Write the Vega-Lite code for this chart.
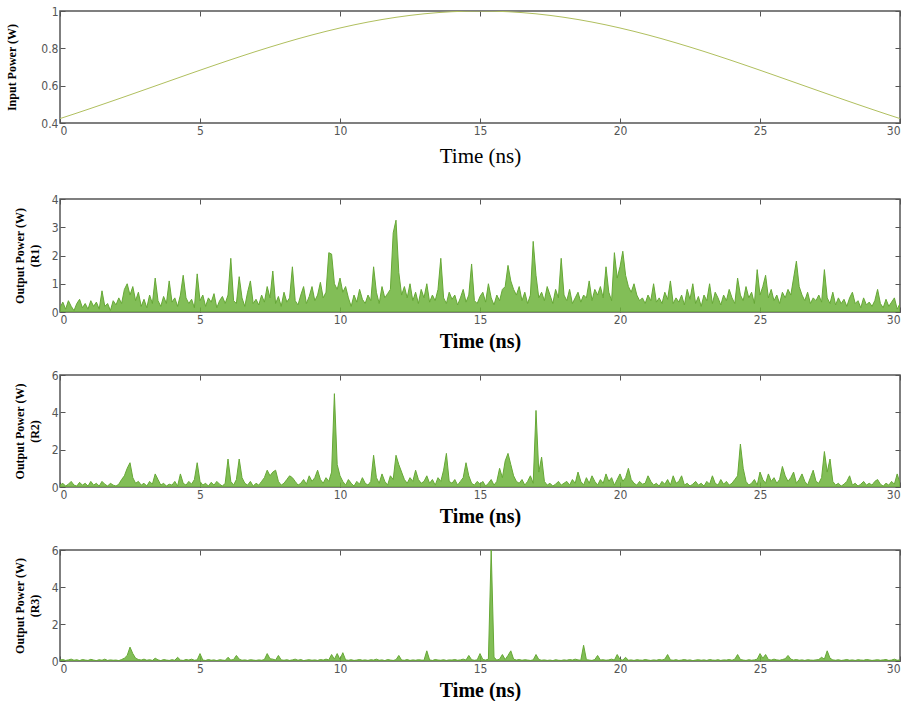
{
"$schema": "https://vega.github.io/schema/vega-lite/v6.json",
"padding": {"left": 5, "top": 4, "right": 4, "bottom": 0},
"background": "white",
"config": {
 "view": {"stroke": "#555555", "strokeWidth": 1.5},
 "axis": {"labelFont": "'Liberation Sans Narrow', 'DejaVu Sans Condensed', 'Roboto Condensed', 'Liberation Sans', sans-serif", "labelFontSize": 12, "labelColor": "#555555", "tickColor": "#555555", "tickSize": -5, "tickWidth": 1, "labelPadding": 7, "domain": false, "grid": false, "titleFont": "Liberation Serif", "titleColor": "#000000"},
 "axisY": {"titleFontSize": 12, "titleFontWeight": "bold", "titlePadding": 10, "titleLineHeight": 15},
 "axisX": {"titleFontSize": 20, "titlePadding": 6, "titleFontWeight": "bold"}
},
"datasets": {
 "inp": [
  {"t":0,"p":0.4237},{"t":0.5,"p":0.4482},{"t":1,"p":0.4733},{"t":1.5,"p":0.4988},{"t":2,"p":0.5247},{"t":2.5,"p":0.5508},{"t":3,"p":0.5772},{"t":3.5,"p":0.6036},{"t":4,"p":0.6301},{"t":4.5,"p":0.6565},
  {"t":5,"p":0.6827},{"t":5.5,"p":0.7086},{"t":6,"p":0.7341},{"t":6.5,"p":0.759},{"t":7,"p":0.7833},{"t":7.5,"p":0.8068},{"t":8,"p":0.8294},{"t":8.5,"p":0.8511},{"t":9,"p":0.8716},{"t":9.5,"p":0.891},
  {"t":10,"p":0.909},{"t":10.5,"p":0.9256},{"t":11,"p":0.9408},{"t":11.5,"p":0.9543},{"t":12,"p":0.9662},{"t":12.5,"p":0.9764},{"t":13,"p":0.9849},{"t":13.5,"p":0.9914},{"t":14,"p":0.9962},{"t":14.5,"p":0.999},
  {"t":15,"p":1.0},{"t":15.5,"p":0.999},{"t":16,"p":0.9962},{"t":16.5,"p":0.9914},{"t":17,"p":0.9849},{"t":17.5,"p":0.9764},{"t":18,"p":0.9662},{"t":18.5,"p":0.9543},{"t":19,"p":0.9408},{"t":19.5,"p":0.9256},
  {"t":20,"p":0.909},{"t":20.5,"p":0.891},{"t":21,"p":0.8716},{"t":21.5,"p":0.8511},{"t":22,"p":0.8294},{"t":22.5,"p":0.8068},{"t":23,"p":0.7833},{"t":23.5,"p":0.759},{"t":24,"p":0.7341},{"t":24.5,"p":0.7086},
  {"t":25,"p":0.6827},{"t":25.5,"p":0.6565},{"t":26,"p":0.6301},{"t":26.5,"p":0.6036},{"t":27,"p":0.5772},{"t":27.5,"p":0.5508},{"t":28,"p":0.5247},{"t":28.5,"p":0.4988},{"t":29,"p":0.4733},{"t":29.5,"p":0.4482},
  {"t":30,"p":0.4237}
 ],
 "out": [
  {"t":0,"r1":0.15,"r2":0.1,"r3":0.05},{"t":0.1,"r1":0.35,"r2":0.2,"r3":0.08},{"t":0.2,"r1":0.1,"r2":0.05,"r3":0.03},{"t":0.3,"r1":0.4,"r2":0.15,"r3":0.06},{"t":0.4,"r1":0.2,"r2":0.3,"r3":0.1},{"t":0.5,"r1":0.05,"r2":0.1,"r3":0.04},{"t":0.6,"r1":0.3,"r2":0.05,"r3":0.07},{"t":0.7,"r1":0.45,"r2":0.25,"r3":0.02},{"t":0.8,"r1":0.15,"r2":0.1,"r3":0.08},{"t":0.9,"r1":0.3,"r2":0.2,"r3":0.05},
  {"t":1,"r1":0.1,"r2":0.05,"r3":0.03},{"t":1.1,"r1":0.4,"r2":0.3,"r3":0.09},{"t":1.2,"r1":0.2,"r2":0.1,"r3":0.05},{"t":1.3,"r1":0.35,"r2":0.2,"r3":0.02},{"t":1.4,"r1":0.1,"r2":0.05,"r3":0.07},{"t":1.5,"r1":0.75,"r2":0.3,"r3":0.04},{"t":1.6,"r1":0.2,"r2":0.15,"r3":0.1},{"t":1.7,"r1":0.3,"r2":0.05,"r3":0.03},{"t":1.8,"r1":0.05,"r2":0.2,"r3":0.06},{"t":1.9,"r1":0.4,"r2":0.1,"r3":0.04},
  {"t":2,"r1":0.25,"r2":0.05,"r3":0.05},{"t":2.1,"r1":0.5,"r2":0.15,"r3":0.02},{"t":2.2,"r1":0.3,"r2":0.4,"r3":0.08},{"t":2.3,"r1":0.8,"r2":0.6,"r3":0.15},{"t":2.4,"r1":1.0,"r2":1.0,"r3":0.3},{"t":2.5,"r1":0.6,"r2":1.3,"r3":0.75},{"t":2.6,"r1":0.9,"r2":0.5,"r3":0.4},{"t":2.7,"r1":0.4,"r2":0.2,"r3":0.15},{"t":2.8,"r1":0.7,"r2":0.3,"r3":0.08},{"t":2.9,"r1":0.2,"r2":0.1,"r3":0.05},
  {"t":3,"r1":0.45,"r2":0.2,"r3":0.1},{"t":3.1,"r1":0.15,"r2":0.05,"r3":0.04},{"t":3.2,"r1":0.6,"r2":0.3,"r3":0.07},{"t":3.3,"r1":0.3,"r2":0.15,"r3":0.03},{"t":3.4,"r1":1.2,"r2":0.7,"r3":0.15},{"t":3.5,"r1":0.4,"r2":0.4,"r3":0.06},{"t":3.6,"r1":0.2,"r2":0.1,"r3":0.02},{"t":3.7,"r1":0.55,"r2":0.2,"r3":0.08},{"t":3.8,"r1":0.3,"r2":0.05,"r3":0.05},{"t":3.9,"r1":1.1,"r2":0.15,"r3":0.03},
  {"t":4,"r1":0.35,"r2":0.1,"r3":0.07},{"t":4.1,"r1":0.5,"r2":0.3,"r3":0.04},{"t":4.2,"r1":0.2,"r2":0.05,"r3":0.2},{"t":4.3,"r1":0.6,"r2":0.7,"r3":0.05},{"t":4.4,"r1":1.3,"r2":0.2,"r3":0.03},{"t":4.5,"r1":0.5,"r2":0.1,"r3":0.08},{"t":4.6,"r1":0.3,"r2":0.3,"r3":0.05},{"t":4.7,"r1":0.45,"r2":0.15,"r3":0.1},{"t":4.8,"r1":0.15,"r2":0.4,"r3":0.04},{"t":4.9,"r1":1.35,"r2":1.3,"r3":0.06},
  {"t":5,"r1":0.4,"r2":0.3,"r3":0.4},{"t":5.1,"r1":0.6,"r2":0.1,"r3":0.05},{"t":5.2,"r1":0.2,"r2":0.2,"r3":0.03},{"t":5.3,"r1":0.5,"r2":0.05,"r3":0.08},{"t":5.4,"r1":0.35,"r2":0.25,"r3":0.04},{"t":5.5,"r1":0.65,"r2":0.1,"r3":0.06},{"t":5.6,"r1":0.15,"r2":0.3,"r3":0.02},{"t":5.7,"r1":0.4,"r2":0.15,"r3":0.07},{"t":5.8,"r1":0.55,"r2":0.05,"r3":0.05},{"t":5.9,"r1":0.3,"r2":0.2,"r3":0.03},
  {"t":6,"r1":0.6,"r2":1.5,"r3":0.2},{"t":6.1,"r1":1.9,"r2":0.3,"r3":0.05},{"t":6.2,"r1":0.4,"r2":0.1,"r3":0.08},{"t":6.3,"r1":0.3,"r2":0.4,"r3":0.3},{"t":6.4,"r1":1.25,"r2":1.5,"r3":0.1},{"t":6.5,"r1":0.5,"r2":0.5,"r3":0.04},{"t":6.6,"r1":0.2,"r2":0.2,"r3":0.06},{"t":6.7,"r1":0.7,"r2":0.1,"r3":0.03},{"t":6.8,"r1":1.1,"r2":0.3,"r3":0.07},{"t":6.9,"r1":0.3,"r2":0.05,"r3":0.05},
  {"t":7,"r1":0.45,"r2":0.2,"r3":0.03},{"t":7.1,"r1":0.25,"r2":0.1,"r3":0.06},{"t":7.2,"r1":0.6,"r2":0.3,"r3":0.04},{"t":7.3,"r1":0.35,"r2":0.5,"r3":0.08},{"t":7.4,"r1":0.9,"r2":0.9,"r3":0.4},{"t":7.5,"r1":0.5,"r2":0.6,"r3":0.12},{"t":7.6,"r1":1.45,"r2":0.8,"r3":0.1},{"t":7.7,"r1":0.3,"r2":0.9,"r3":0.05},{"t":7.8,"r1":0.55,"r2":0.3,"r3":0.3},{"t":7.9,"r1":0.2,"r2":0.1,"r3":0.06},
  {"t":8,"r1":0.7,"r2":0.2,"r3":0.04},{"t":8.1,"r1":0.35,"r2":0.4,"r3":0.07},{"t":8.2,"r1":0.5,"r2":0.6,"r3":0.03},{"t":8.3,"r1":1.6,"r2":0.5,"r3":0.06},{"t":8.4,"r1":0.4,"r2":0.3,"r3":0.1},{"t":8.5,"r1":0.25,"r2":0.1,"r3":0.04},{"t":8.6,"r1":0.6,"r2":0.2,"r3":0.08},{"t":8.7,"r1":0.9,"r2":0.4,"r3":0.02},{"t":8.8,"r1":0.3,"r2":0.15,"r3":0.05},{"t":8.9,"r1":0.55,"r2":0.6,"r3":0.07},
  {"t":9,"r1":0.9,"r2":0.3,"r3":0.04},{"t":9.1,"r1":0.4,"r2":0.5,"r3":0.06},{"t":9.2,"r1":0.6,"r2":0.9,"r3":0.03},{"t":9.3,"r1":1.05,"r2":0.4,"r3":0.08},{"t":9.4,"r1":0.5,"r2":0.2,"r3":0.05},{"t":9.5,"r1":0.7,"r2":0.5,"r3":0.1},{"t":9.6,"r1":2.1,"r2":0.3,"r3":0.06},{"t":9.7,"r1":2.05,"r2":0.8,"r3":0.35},{"t":9.8,"r1":1.0,"r2":5.0,"r3":0.1},{"t":9.9,"r1":0.8,"r2":1.2,"r3":0.4},
  {"t":10,"r1":1.2,"r2":0.6,"r3":0.08},{"t":10.1,"r1":0.7,"r2":0.3,"r3":0.45},{"t":10.2,"r1":0.9,"r2":0.1,"r3":0.06},{"t":10.3,"r1":0.5,"r2":0.4,"r3":0.04},{"t":10.4,"r1":0.2,"r2":0.2,"r3":0.07},{"t":10.5,"r1":0.6,"r2":0.05,"r3":0.03},{"t":10.6,"r1":0.35,"r2":0.3,"r3":0.05},{"t":10.7,"r1":0.8,"r2":0.15,"r3":0.08},{"t":10.8,"r1":0.45,"r2":0.5,"r3":0.04},{"t":10.9,"r1":0.3,"r2":0.2,"r3":0.06},
  {"t":11,"r1":0.6,"r2":0.1,"r3":0.03},{"t":11.1,"r1":0.4,"r2":0.3,"r3":0.07},{"t":11.2,"r1":1.6,"r2":1.7,"r3":0.05},{"t":11.3,"r1":0.7,"r2":0.5,"r3":0.1},{"t":11.4,"r1":0.3,"r2":0.2,"r3":0.04},{"t":11.5,"r1":0.9,"r2":0.7,"r3":0.06},{"t":11.6,"r1":0.5,"r2":0.3,"r3":0.02},{"t":11.7,"r1":0.65,"r2":0.1,"r3":0.08},{"t":11.8,"r1":0.8,"r2":0.6,"r3":0.05},{"t":11.9,"r1":2.8,"r2":0.4,"r3":0.03},
  {"t":12,"r1":3.25,"r2":1.7,"r3":0.07},{"t":12.1,"r1":1.4,"r2":1.2,"r3":0.3},{"t":12.2,"r1":0.6,"r2":0.8,"r3":0.05},{"t":12.3,"r1":0.9,"r2":0.4,"r3":0.04},{"t":12.4,"r1":0.5,"r2":0.2,"r3":0.08},{"t":12.5,"r1":1.0,"r2":0.5,"r3":0.03},{"t":12.6,"r1":0.4,"r2":0.3,"r3":0.06},{"t":12.7,"r1":0.7,"r2":0.9,"r3":0.04},{"t":12.8,"r1":0.3,"r2":0.4,"r3":0.07},{"t":12.9,"r1":0.8,"r2":0.2,"r3":0.05},
  {"t":13,"r1":0.5,"r2":0.3,"r3":0.04},{"t":13.1,"r1":1.0,"r2":0.6,"r3":0.55},{"t":13.2,"r1":0.35,"r2":0.2,"r3":0.06},{"t":13.3,"r1":0.6,"r2":0.4,"r3":0.03},{"t":13.4,"r1":0.4,"r2":0.1,"r3":0.08},{"t":13.5,"r1":0.8,"r2":0.5,"r3":0.05},{"t":13.6,"r1":1.9,"r2":0.3,"r3":0.04},{"t":13.7,"r1":0.5,"r2":0.9,"r3":0.07},{"t":13.8,"r1":0.3,"r2":1.8,"r3":0.03},{"t":13.9,"r1":0.7,"r2":0.3,"r3":0.06},
  {"t":14,"r1":0.45,"r2":0.2,"r3":0.05},{"t":14.1,"r1":0.6,"r2":0.4,"r3":0.08},{"t":14.2,"r1":0.25,"r2":0.1,"r3":0.04},{"t":14.3,"r1":0.5,"r2":0.3,"r3":0.06},{"t":14.4,"r1":0.8,"r2":0.5,"r3":0.1},{"t":14.5,"r1":0.35,"r2":1.3,"r3":0.05},{"t":14.6,"r1":0.6,"r2":0.6,"r3":0.3},{"t":14.7,"r1":1.7,"r2":0.2,"r3":0.07},{"t":14.8,"r1":0.4,"r2":0.1,"r3":0.04},{"t":14.9,"r1":0.3,"r2":0.3,"r3":0.06},
  {"t":15,"r1":0.55,"r2":0.15,"r3":0.4},{"t":15.1,"r1":0.7,"r2":0.3,"r3":0.08},{"t":15.2,"r1":0.35,"r2":0.05,"r3":0.05},{"t":15.3,"r1":1.0,"r2":0.2,"r3":0.1},{"t":15.4,"r1":0.5,"r2":0.4,"r3":6.0},{"t":15.5,"r1":0.25,"r2":0.1,"r3":0.2},{"t":15.6,"r1":0.6,"r2":0.3,"r3":0.05},{"t":15.7,"r1":0.4,"r2":1.0,"r3":0.1},{"t":15.8,"r1":0.8,"r2":0.5,"r3":0.35},{"t":15.9,"r1":0.9,"r2":1.4,"r3":0.08},
  {"t":16,"r1":1.65,"r2":1.8,"r3":0.3},{"t":16.1,"r1":1.1,"r2":1.2,"r3":0.55},{"t":16.2,"r1":0.8,"r2":0.6,"r3":0.1},{"t":16.3,"r1":0.6,"r2":0.3,"r3":0.05},{"t":16.4,"r1":0.9,"r2":0.2,"r3":0.08},{"t":16.5,"r1":0.4,"r2":0.4,"r3":0.04},{"t":16.6,"r1":0.7,"r2":0.1,"r3":0.07},{"t":16.7,"r1":0.3,"r2":0.3,"r3":0.05},{"t":16.8,"r1":0.6,"r2":0.6,"r3":0.03},{"t":16.9,"r1":2.5,"r2":0.2,"r3":0.06},
  {"t":17,"r1":1.3,"r2":4.1,"r3":0.35},{"t":17.1,"r1":0.5,"r2":0.8,"r3":0.08},{"t":17.2,"r1":0.7,"r2":1.6,"r3":0.04},{"t":17.3,"r1":0.4,"r2":0.3,"r3":0.06},{"t":17.4,"r1":0.9,"r2":0.1,"r3":0.03},{"t":17.5,"r1":0.6,"r2":0.2,"r3":0.05},{"t":17.6,"r1":0.3,"r2":0.05,"r3":0.02},{"t":17.7,"r1":0.8,"r2":0.15,"r3":0.07},{"t":17.8,"r1":0.5,"r2":0.3,"r3":0.04},{"t":17.9,"r1":1.9,"r2":0.1,"r3":0.03},
  {"t":18,"r1":0.6,"r2":0.2,"r3":0.06},{"t":18.1,"r1":0.4,"r2":0.3,"r3":0.04},{"t":18.2,"r1":0.8,"r2":0.1,"r3":0.08},{"t":18.3,"r1":0.3,"r2":0.4,"r3":0.05},{"t":18.4,"r1":0.5,"r2":0.2,"r3":0.1},{"t":18.5,"r1":0.7,"r2":0.8,"r3":0.06},{"t":18.6,"r1":0.35,"r2":0.3,"r3":0.04},{"t":18.7,"r1":0.6,"r2":0.1,"r3":0.85},{"t":18.8,"r1":0.5,"r2":0.5,"r3":0.07},{"t":18.9,"r1":1.1,"r2":0.2,"r3":0.05},
  {"t":19,"r1":0.4,"r2":0.6,"r3":0.03},{"t":19.1,"r1":0.8,"r2":0.3,"r3":0.08},{"t":19.2,"r1":0.6,"r2":0.1,"r3":0.3},{"t":19.3,"r1":0.9,"r2":0.4,"r3":0.05},{"t":19.4,"r1":0.5,"r2":0.2,"r3":0.07},{"t":19.5,"r1":1.6,"r2":0.7,"r3":0.04},{"t":19.6,"r1":0.7,"r2":0.3,"r3":0.06},{"t":19.7,"r1":0.4,"r2":0.5,"r3":0.1},{"t":19.8,"r1":2.1,"r2":0.1,"r3":0.05},{"t":19.9,"r1":1.2,"r2":0.4,"r3":0.35},
  {"t":20,"r1":1.6,"r2":0.7,"r3":0.08},{"t":20.1,"r1":2.15,"r2":0.3,"r3":0.05},{"t":20.2,"r1":1.3,"r2":0.5,"r3":0.2},{"t":20.3,"r1":0.9,"r2":1.0,"r3":0.04},{"t":20.4,"r1":0.7,"r2":0.4,"r3":0.06},{"t":20.5,"r1":1.0,"r2":0.2,"r3":0.03},{"t":20.6,"r1":0.6,"r2":0.1,"r3":0.07},{"t":20.7,"r1":0.4,"r2":0.3,"r3":0.05},{"t":20.8,"r1":0.5,"r2":0.15,"r3":0.04},{"t":20.9,"r1":0.3,"r2":0.2,"r3":0.08},
  {"t":21,"r1":0.6,"r2":0.6,"r3":0.05},{"t":21.1,"r1":0.4,"r2":0.3,"r3":0.03},{"t":21.2,"r1":1.0,"r2":0.1,"r3":0.06},{"t":21.3,"r1":0.35,"r2":0.2,"r3":0.04},{"t":21.4,"r1":0.5,"r2":0.05,"r3":0.08},{"t":21.5,"r1":0.3,"r2":0.3,"r3":0.05},{"t":21.6,"r1":0.7,"r2":0.15,"r3":0.1},{"t":21.7,"r1":0.45,"r2":0.4,"r3":0.35},{"t":21.8,"r1":1.1,"r2":0.1,"r3":0.06},{"t":21.9,"r1":0.3,"r2":0.6,"r3":0.04},
  {"t":22,"r1":0.5,"r2":0.2,"r3":0.07},{"t":22.1,"r1":0.35,"r2":0.3,"r3":0.03},{"t":22.2,"r1":0.6,"r2":0.6,"r3":0.05},{"t":22.3,"r1":0.25,"r2":0.1,"r3":0.08},{"t":22.4,"r1":0.8,"r2":0.2,"r3":0.04},{"t":22.5,"r1":0.45,"r2":0.05,"r3":0.06},{"t":22.6,"r1":1.0,"r2":0.15,"r3":0.02},{"t":22.7,"r1":0.3,"r2":0.3,"r3":0.05},{"t":22.8,"r1":0.55,"r2":0.1,"r3":0.07},{"t":22.9,"r1":0.2,"r2":0.2,"r3":0.04},
  {"t":23,"r1":0.6,"r2":0.05,"r3":0.06},{"t":23.1,"r1":0.4,"r2":0.3,"r3":0.03},{"t":23.2,"r1":1.0,"r2":0.15,"r3":0.08},{"t":23.3,"r1":0.3,"r2":0.6,"r3":0.05},{"t":23.4,"r1":0.7,"r2":0.2,"r3":0.04},{"t":23.5,"r1":0.5,"r2":0.1,"r3":0.07},{"t":23.6,"r1":0.25,"r2":0.4,"r3":0.03},{"t":23.7,"r1":0.6,"r2":0.15,"r3":0.06},{"t":23.8,"r1":0.4,"r2":0.3,"r3":0.05},{"t":23.9,"r1":0.8,"r2":0.1,"r3":0.08},
  {"t":24,"r1":0.5,"r2":0.2,"r3":0.04},{"t":24.1,"r1":0.3,"r2":0.4,"r3":0.1},{"t":24.2,"r1":1.2,"r2":0.6,"r3":0.35},{"t":24.3,"r1":0.6,"r2":2.3,"r3":0.08},{"t":24.4,"r1":0.4,"r2":1.0,"r3":0.05},{"t":24.5,"r1":0.9,"r2":0.3,"r3":0.03},{"t":24.6,"r1":0.5,"r2":0.1,"r3":0.07},{"t":24.7,"r1":0.7,"r2":0.2,"r3":0.04},{"t":24.8,"r1":0.3,"r2":0.4,"r3":0.06},{"t":24.9,"r1":1.5,"r2":0.1,"r3":0.1},
  {"t":25,"r1":0.6,"r2":0.8,"r3":0.4},{"t":25.1,"r1":0.9,"r2":0.4,"r3":0.15},{"t":25.2,"r1":1.3,"r2":0.2,"r3":0.35},{"t":25.3,"r1":0.5,"r2":0.7,"r3":0.08},{"t":25.4,"r1":0.8,"r2":0.3,"r3":0.05},{"t":25.5,"r1":0.4,"r2":0.5,"r3":0.1},{"t":25.6,"r1":0.6,"r2":0.2,"r3":0.06},{"t":25.7,"r1":0.3,"r2":0.4,"r3":0.04},{"t":25.8,"r1":0.7,"r2":1.1,"r3":0.08},{"t":25.9,"r1":0.5,"r2":0.6,"r3":0.12},
  {"t":26,"r1":0.8,"r2":0.3,"r3":0.3},{"t":26.1,"r1":0.6,"r2":0.5,"r3":0.1},{"t":26.2,"r1":1.2,"r2":0.8,"r3":0.05},{"t":26.3,"r1":1.8,"r2":0.2,"r3":0.08},{"t":26.4,"r1":0.9,"r2":0.4,"r3":0.04},{"t":26.5,"r1":0.6,"r2":0.7,"r3":0.06},{"t":26.6,"r1":0.4,"r2":0.3,"r3":0.03},{"t":26.7,"r1":0.7,"r2":0.1,"r3":0.07},{"t":26.8,"r1":0.3,"r2":0.5,"r3":0.05},{"t":26.9,"r1":0.5,"r2":0.9,"r3":0.04},
  {"t":27,"r1":0.4,"r2":0.3,"r3":0.06},{"t":27.1,"r1":0.6,"r2":0.2,"r3":0.08},{"t":27.2,"r1":0.35,"r2":0.5,"r3":0.2},{"t":27.3,"r1":1.5,"r2":1.9,"r3":0.1},{"t":27.4,"r1":0.5,"r2":0.8,"r3":0.55},{"t":27.5,"r1":0.3,"r2":1.5,"r3":0.15},{"t":27.6,"r1":0.7,"r2":0.3,"r3":0.06},{"t":27.7,"r1":0.25,"r2":0.1,"r3":0.04},{"t":27.8,"r1":0.5,"r2":0.2,"r3":0.07},{"t":27.9,"r1":0.3,"r2":0.05,"r3":0.03},
  {"t":28,"r1":0.45,"r2":0.15,"r3":0.05},{"t":28.1,"r1":0.2,"r2":0.3,"r3":0.08},{"t":28.2,"r1":0.5,"r2":0.6,"r3":0.04},{"t":28.3,"r1":0.7,"r2":0.1,"r3":0.06},{"t":28.4,"r1":0.3,"r2":0.2,"r3":0.03},{"t":28.5,"r1":0.4,"r2":0.05,"r3":0.07},{"t":28.6,"r1":0.15,"r2":0.15,"r3":0.05},{"t":28.7,"r1":0.5,"r2":0.3,"r3":0.04},{"t":28.8,"r1":0.25,"r2":0.1,"r3":0.08},{"t":28.9,"r1":0.35,"r2":0.2,"r3":0.06},
  {"t":29,"r1":0.2,"r2":0.1,"r3":0.03},{"t":29.1,"r1":0.4,"r2":0.3,"r3":0.05},{"t":29.2,"r1":0.8,"r2":0.4,"r3":0.07},{"t":29.3,"r1":0.3,"r2":0.15,"r3":0.04},{"t":29.4,"r1":0.15,"r2":0.05,"r3":0.06},{"t":29.5,"r1":0.45,"r2":0.2,"r3":0.08},{"t":29.6,"r1":0.2,"r2":0.1,"r3":0.03},{"t":29.7,"r1":0.35,"r2":0.3,"r3":0.05},{"t":29.8,"r1":0.5,"r2":0.15,"r3":0.1},{"t":29.9,"r1":0.1,"r2":0.7,"r3":0.04},
  {"t":30,"r1":0.3,"r2":0.2,"r3":0.06}
 ]
},
"spacing": 76,
"bounds": "flush",
"vconcat": [
 {
  "width": 840, "height": 112,
  "data": {"name": "inp"},
  "layer": [
   {"mark": {"type": "line", "color": "#b0bf5e", "strokeWidth": 1, "clip": true},
    "encoding": {
     "x": {"field": "t", "type": "quantitative", "scale": {"domain": [0, 30], "nice": false, "zero": false},
           "axis": {"orient": "bottom", "values": [0, 5, 10, 15, 20, 25, 30], "title": "Time (ns)", "titleFontWeight": "normal", "titleFontSize": 21, "titlePadding": 9}},
     "y": {"field": "p", "type": "quantitative", "scale": {"domain": [0.4, 1], "nice": false, "zero": false},
           "axis": {"orient": "left", "values": [0.4, 0.6, 0.8, 1], "format": "~g", "title": "Input Power (W)", "titlePadding": 22}}
    }},
   {"mark": {"type": "line", "opacity": 0},
    "encoding": {
     "x": {"field": "t", "type": "quantitative", "axis": {"orient": "top", "values": [0, 5, 10, 15, 20, 25, 30], "labels": false, "title": null}},
     "y": {"field": "p", "type": "quantitative", "axis": {"orient": "right", "values": [0.4, 0.6, 0.8, 1], "labels": false, "title": null}}
    }}
  ],
  "resolve": {"axis": {"x": "independent", "y": "independent"}}
 },
 {
  "spacing": 63,
  "bounds": "flush",
  "data": {"name": "out"},
  "vconcat": [
   {
    "width": 840, "height": 113,
    "layer": [
     {"mark": {"type": "area", "color": "#6cb33a", "opacity": 0.85, "clip": true},
      "encoding": {
       "x": {"field": "t", "type": "quantitative", "scale": {"domain": [0, 30], "nice": false, "zero": false},
             "axis": {"orient": "bottom", "values": [0, 5, 10, 15, 20, 25, 30], "title": "Time (ns)"}},
       "y": {"field": "r1", "type": "quantitative", "scale": {"domain": [0, 4], "nice": false},
             "axis": {"orient": "left", "values": [0, 1, 2, 3, 4], "title": ["Output Power (W)", "(R1)"]}}
      }},
     {"mark": {"type": "line", "color": "#66a836", "strokeWidth": 1, "clip": true},
      "encoding": {
       "x": {"field": "t", "type": "quantitative", "axis": {"orient": "top", "values": [0, 5, 10, 15, 20, 25, 30], "labels": false, "title": null}},
       "y": {"field": "r1", "type": "quantitative", "axis": {"orient": "right", "values": [0, 1, 2, 3, 4], "labels": false, "title": null}}
      }}
    ],
    "resolve": {"axis": {"x": "independent", "y": "independent"}}
   },
   {
    "width": 840, "height": 112,
    "layer": [
     {"mark": {"type": "area", "color": "#6cb33a", "opacity": 0.85, "clip": true},
      "encoding": {
       "x": {"field": "t", "type": "quantitative", "scale": {"domain": [0, 30], "nice": false, "zero": false},
             "axis": {"orient": "bottom", "values": [0, 5, 10, 15, 20, 25, 30], "title": "Time (ns)"}},
       "y": {"field": "r2", "type": "quantitative", "scale": {"domain": [0, 6], "nice": false},
             "axis": {"orient": "left", "values": [0, 2, 4, 6], "title": ["Output Power (W)", "(R2)"]}}
      }},
     {"mark": {"type": "line", "color": "#66a836", "strokeWidth": 1, "clip": true},
      "encoding": {
       "x": {"field": "t", "type": "quantitative", "axis": {"orient": "top", "values": [0, 5, 10, 15, 20, 25, 30], "labels": false, "title": null}},
       "y": {"field": "r2", "type": "quantitative", "axis": {"orient": "right", "values": [0, 2, 4, 6], "labels": false, "title": null}}
      }}
    ],
    "resolve": {"axis": {"x": "independent", "y": "independent"}}
   },
   {
    "width": 840, "height": 111,
    "layer": [
     {"mark": {"type": "area", "color": "#6cb33a", "opacity": 0.85, "clip": true},
      "encoding": {
       "x": {"field": "t", "type": "quantitative", "scale": {"domain": [0, 30], "nice": false, "zero": false},
             "axis": {"orient": "bottom", "values": [0, 5, 10, 15, 20, 25, 30], "title": "Time (ns)"}},
       "y": {"field": "r3", "type": "quantitative", "scale": {"domain": [0, 6], "nice": false},
             "axis": {"orient": "left", "values": [0, 2, 4, 6], "title": ["Output Power (W)", "(R3)"]}}
      }},
     {"mark": {"type": "line", "color": "#66a836", "strokeWidth": 1, "clip": true},
      "encoding": {
       "x": {"field": "t", "type": "quantitative", "axis": {"orient": "top", "values": [0, 5, 10, 15, 20, 25, 30], "labels": false, "title": null}},
       "y": {"field": "r3", "type": "quantitative", "axis": {"orient": "right", "values": [0, 2, 4, 6], "labels": false, "title": null}}
      }}
    ],
    "resolve": {"axis": {"x": "independent", "y": "independent"}}
   }
  ]
 }
]
}
